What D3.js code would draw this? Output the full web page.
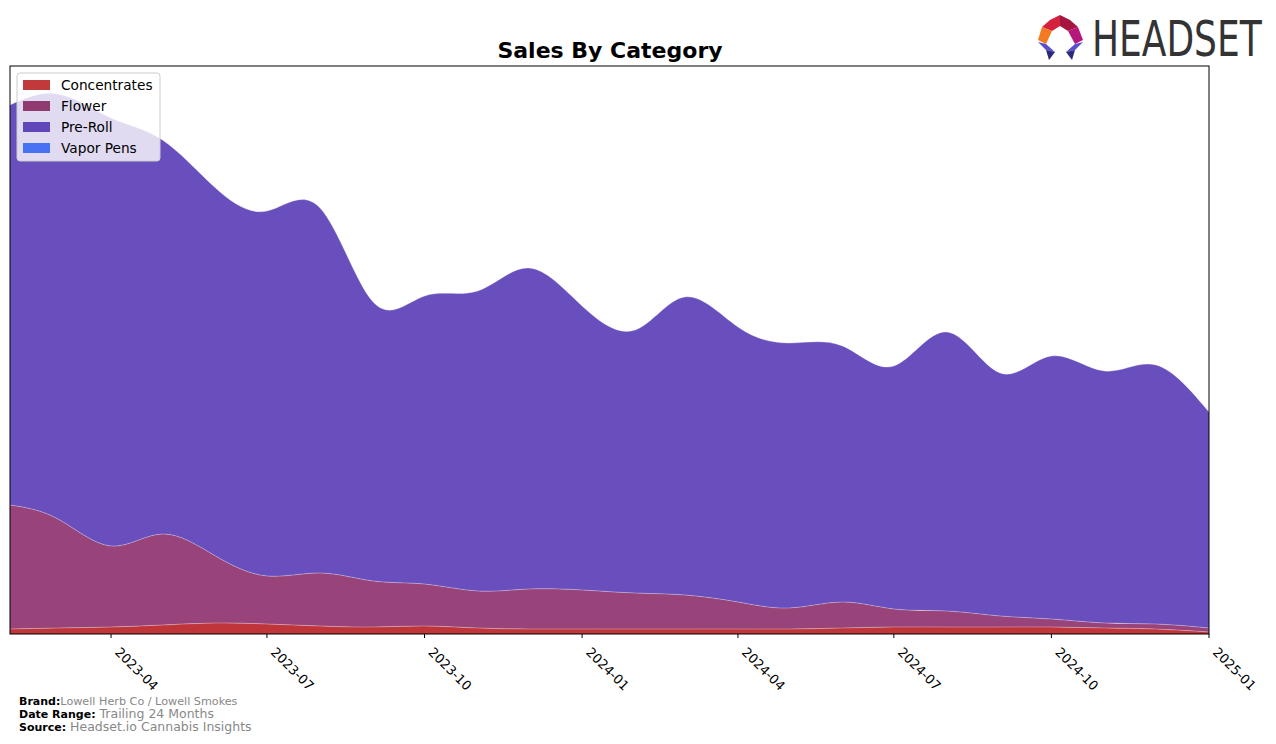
<!DOCTYPE html>
<html><head><meta charset="utf-8">
<script src="https://cdn.jsdelivr.net/npm/d3@7"></script>
<style>
body{margin:0;background:#fff;font-family:"DejaVu Sans",sans-serif;}
svg{display:block;}
</style></head>
<body>
<svg id="chart" width="1276" height="744"></svg>
<script>
const months = ["2023-02-01","2023-03-01","2023-04-01","2023-05-01","2023-06-01","2023-07-01","2023-08-01","2023-09-01","2023-10-01","2023-11-01","2023-12-01","2024-01-01","2024-02-01","2024-03-01","2024-04-01","2024-05-01","2024-06-01","2024-07-01","2024-08-01","2024-09-01","2024-10-01","2024-11-01","2024-12-01","2025-01-01"];
const categories = ["Concentrates","Flower","Pre-Roll","Vapor Pens"];
const concentrates = [5,6,7,9,11,10,8,7,8,6,5,5,5,5,5,5,6,7,7,7,7,6,5,2];
const flower = [124,109,81,91,67,48,53,46,42,37,40,39,36,34,27,21,26,18,16,11,8,5,5,4];
const preRoll = [400,425,428,394,368,365,365,279,288,300,321,284,263,298,275,265,256,243,279,243,263,252,259,216];
const vaporPens = [0,0,0,0,0,0,0,0,0,0,0,0,0,0,0,0,0,0,0,0,0,0,0,0];
const tickLabels = ["2023-04","2023-07","2023-10","2024-01","2024-04","2024-07","2024-10","2025-01"];
const colors = ["#c0353a","#984379","#694ebd","#4a74f5"];
const legendColors = ["#c13a3a","#8f3a70","#5f47b9","#4872f4"];

(function(){
const svg = d3.select("#chart");
const parse = d3.timeParse("%Y-%m-%d");
const dates = months.map(parse);
const seriesVals = [concentrates, flower, preRoll, vaporPens];
const rows = dates.map((d,i)=>{const r={date:d}; categories.forEach((c,k)=>r[c]=seriesVals[k][i]); return r;});
const stack = d3.stack().keys(categories)(rows);

const pL=10,pR=1209,pT=66,pB=634;
const x = d3.scaleTime().domain([dates[0], dates[dates.length-1]]).range([pL,pR]);
const y = d3.scaleLinear().domain([0,568]).range([pB,pT]);

svg.append("defs").append("clipPath").attr("id","clip").append("rect")
  .attr("x",pL).attr("y",pT).attr("width",pR-pL).attr("height",pB-pT);

const area = d3.area().x(d=>x(d.data.date)).y0(d=>y(d[0])).y1(d=>y(d[1])).curve(d3.curveNatural);
const line = d3.line().x(d=>x(d.data.date)).y(d=>y(d[1])).curve(d3.curveNatural);
const g = svg.append("g").attr("clip-path","url(#clip)");
stack.forEach((s,k)=>{
  g.append("path").datum(s).attr("d",area).attr("fill",colors[k]);
});
stack.forEach((s,k)=>{
  if(k<3) g.append("path").datum(s).attr("d",line).attr("fill","none").attr("stroke","#ffffff").attr("stroke-opacity",0.3).attr("stroke-width",1);
});

svg.append("rect").attr("x",pL).attr("y",pT).attr("width",pR-pL).attr("height",pB-pT)
  .attr("fill","none").attr("stroke","#000").attr("stroke-width",1);

const tickDates = tickLabels.map(t=>parse(t+"-01"));
const ax = svg.append("g");
tickDates.forEach((d,i)=>{
  const tx = x(d);
  ax.append("line").attr("x1",tx).attr("x2",tx).attr("y1",pB).attr("y2",pB+4).attr("stroke","#000");
  ax.append("text").attr("transform",`translate(${tx+10},${pB+12}) rotate(45)`)
    .attr("text-anchor","start").attr("dy","0.75em").attr("font-size","13px").attr("fill","#000").text(tickLabels[i]);
});

svg.append("text").attr("x",610).attr("y",58).attr("text-anchor","middle")
  .attr("font-size","22px").attr("font-weight","bold").text("Sales By Category");

const lg = svg.append("g");
lg.append("rect").attr("x",17).attr("y",73).attr("width",143).attr("height",88).attr("rx",3)
  .attr("fill","#fff").attr("fill-opacity",0.8).attr("stroke","#cccccc");
categories.forEach((c,i)=>{
  const cy = 85 + i*21;
  lg.append("rect").attr("x",23).attr("y",cy-5).attr("width",27).attr("height",10).attr("fill",legendColors[i]);
  lg.append("text").attr("x",61).attr("y",cy+5).attr("font-size","13.7px").attr("fill","#000").text(c);
});

const foot = [["Brand:","Lowell Herb Co / Lowell Smokes",705,11.2],["Date Range:","Trailing 24 Months",718,12.5],["Source:","Headset.io Cannabis Insights",731,12.5]];
foot.forEach(f=>{
  const t = svg.append("text").attr("x",19).attr("y",f[2]).attr("font-size","11px");
  t.append("tspan").attr("font-weight","bold").attr("fill","#000").text(f[0]);
  t.append("tspan").attr("fill","#888").attr("font-size",f[3]+"px").text((f[0]==="Brand:"?"":" ")+f[1]);
});

const logo = svg.append("g");
const polys = [
  {p:[[1060,15],[1050,20],[1042,27],[1052,31],[1060,26]],c:"#d4213d"},
  {p:[[1060,15],[1070,20],[1078,27],[1068,31],[1060,26]],c:"#a5163f"},
  {p:[[1042,27],[1038,40],[1046,44],[1052,31]],c:"#f47a20"},
  {p:[[1078,27],[1083,40],[1075,44],[1068,31]],c:"#b5177a"},
  {p:[[1038,42],[1046,44],[1055,52],[1046,50]],c:"#5a4fcf"},
  {p:[[1046,50],[1055,52],[1049,60]],c:"#2a2a7a"},
  {p:[[1083,42],[1075,44],[1066,52],[1075,50]],c:"#5a4fcf"},
  {p:[[1075,50],[1066,52],[1072,60]],c:"#2a2a7a"}
];
polys.forEach(o=>logo.append("polygon").attr("points",o.p.map(q=>q.join(",")).join(" ")).attr("fill",o.c));
logo.append("text").attr("transform","translate(1092,56) scale(0.8,1)").attr("font-family","'Liberation Sans Narrow','DejaVu Sans Condensed',sans-serif")
  .attr("font-size","50px").attr("fill","#333").text("HEADSET");
})();
</script>
</body></html>
